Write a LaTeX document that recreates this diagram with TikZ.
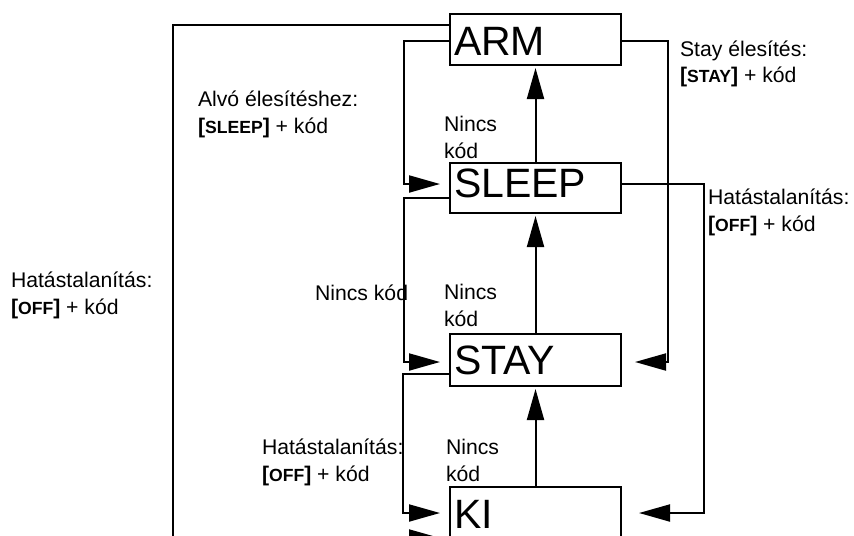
\documentclass[tikz,border=0pt]{standalone}
\usepackage{fontspec}
\setmainfont{Liberation Sans}
\usetikzlibrary{arrows.meta}
\newcommand{\keyb}[1]{\textbf{[}{\bfseries\fontsize{8.8}{8.8}\selectfont #1}\textbf{]}}
\begin{document}
\begin{tikzpicture}[x=0.5pt, y=-0.5pt, line width=1pt,
    state/.style={draw, anchor=north west, inner xsep=2pt, inner ysep=0pt,
        text width=81.5pt, align=left, font=\fontsize{20.5}{24}\selectfont},
    lbl/.style={anchor=base west, inner sep=0pt, align=left,
        font=\fontsize{10.6}{13.25}\selectfont},
    arr/.style={-{Triangle[length=15.5pt,width=8.5pt]}, shorten >=4.5pt}]
    \useasboundingbox (0,0) rectangle (854,535);

    \node[state, text height=20.5pt, text depth=5pt] (arm) at (449,13) {ARM};
    \node[state, text height=17.25pt, text depth=7.75pt] (sleep) at (449,162) {SLEEP};
    \node[state, text height=20pt, text depth=6pt] (stay) at (449,333) {STAY};
    \node[state, text height=20.5pt, text depth=6.5pt] (ki) at (449,486) {KI};

    \draw[arr, shorten >=1pt] (sleep.north) -- (arm.south);
    \draw[arr, shorten >=1pt] (stay.north) -- (sleep.south);
    \draw[arr, shorten >=1pt] (ki.north) -- (stay.south);

    \draw[arr] (arm.west |- 0,41) -| (404,184) -- (sleep.west |- 0,184);
    \draw[arr] (sleep.west |- 0,198) -| (404,362) -- (stay.west |- 0,362);
    \draw[arr] (stay.west |- 0,374) -| (403,513) -- (ki.west |- 0,513);
    \draw[arr] (arm.west |- 0,25) -| (173,538) -- (ki.west |- 0,538);

    \draw[arr, shorten >=6.5pt] (arm.east |- 0,41) -| (668,362) -- (stay.east |- 0,362);
    \draw[arr, shorten >=8.5pt] (sleep.east |- 0,184) -| (704,513) -- (ki.east |- 0,513);

    % base = last line
    \node[lbl] (alvo) at (197,133) {Alvó élesítéshez:\\\keyb{SLEEP} + kód};
    \node[lbl] (offleft) at (10,314) {Hatástalanítás:\\\keyb{OFF} + kód};
    \node[lbl] (nokod) at (314,300) {Nincs kód};
    \node[lbl] (nokod1) at (443,158) {Nincs\\kód};
    \node[lbl] (nokod2) at (443,326) {Nincs\\kód};
    \node[lbl] (nokod3) at (445,481) {Nincs\\kód};
    \node[lbl] (stayarm) at (679,83) {Stay élesítés:\\\keyb{STAY} + kód};
    \node[lbl] (offright) at (707,231) {Hatástalanítás:\\\keyb{OFF} + kód};
    \node[lbl] (offbottom) at (261,481) {Hatástalanítás:\\\keyb{OFF} + kód};
\end{tikzpicture}
\end{document}
